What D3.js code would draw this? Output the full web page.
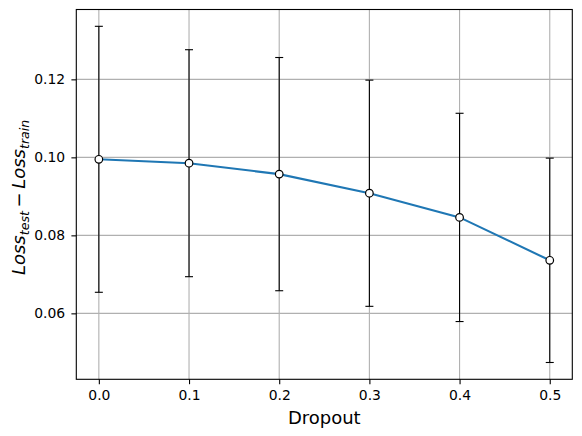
<!DOCTYPE html>
<html><head><meta charset="utf-8">
<script src="https://cdn.jsdelivr.net/npm/d3@7"></script>
<style>body{margin:0;background:#fff}svg{display:block;font-family:"DejaVu Sans",sans-serif}</style>
</head><body><svg id="c" width="582" height="436"></svg>
<script>
const dropout = [0.0, 0.1, 0.2, 0.3, 0.4, 0.5];
const meanGap = [0.0995, 0.0985, 0.0957, 0.0908, 0.0846, 0.0736];
const errGap  = [0.0341, 0.0291, 0.0299, 0.0290, 0.0267, 0.0262];
const xTicks = [0.0, 0.1, 0.2, 0.3, 0.4, 0.5];
const yTicks = [0.06, 0.08, 0.10, 0.12];

const svg = d3.select("#c");
const L = 76.3, R = 572.3, T = 9.5, B = 379.3;
const lo = d3.min(meanGap.map((m,i)=>m-errGap[i])), hi = d3.max(meanGap.map((m,i)=>m+errGap[i]));
const yp = (hi-lo)*0.05;
const x = d3.scaleLinear().domain([-0.025, 0.525]).range([L, R]);
const y = d3.scaleLinear().domain([lo-yp, hi+yp]).range([B, T]);

// grid
const g = svg.append("g");
g.selectAll(".gx").data(xTicks).join("line")
  .attr("x1", d=>x(d)).attr("x2", d=>x(d)).attr("y1", T).attr("y2", B)
  .attr("stroke", "#b0b0b0").attr("stroke-width", 1.1);
g.selectAll(".gy").data(yTicks).join("line")
  .attr("y1", d=>y(d)).attr("y2", d=>y(d)).attr("x1", L).attr("x2", R)
  .attr("stroke", "#b0b0b0").attr("stroke-width", 1.1);

// axes
const xa = svg.append("g").attr("transform", `translate(0,${B})`)
  .call(d3.axisBottom(x).tickValues(xTicks).tickFormat(d3.format(".1f")).tickSizeOuter(0).tickSize(4.9).tickPadding(6.3));
const ya = svg.append("g").attr("transform", `translate(${L},0)`)
  .call(d3.axisLeft(y).tickValues(yTicks).tickFormat(d3.format(".2f")).tickSizeOuter(0).tickSize(4.9).tickPadding(6.2));
[xa, ya].forEach(a => {
  a.select(".domain").remove();
  a.selectAll("line").attr("stroke", "#000").attr("stroke-width", 1.1);
  a.selectAll("text").attr("font-size", 13.9).attr("fill", "#000").attr("font-family", "DejaVu Sans");
});

// line
svg.append("path").datum(dropout.map((d,i)=>[d, meanGap[i]]))
  .attr("d", d3.line().x(d=>x(d[0])).y(d=>y(d[1])))
  .attr("fill", "none").attr("stroke", "#1f77b4").attr("stroke-width", 2.1);

// error bars
const eb = svg.append("g").attr("stroke", "#000").attr("stroke-width", 1.1);
dropout.forEach((d,i) => {
  const cx = x(d), y1 = y(meanGap[i]+errGap[i]), y2 = y(meanGap[i]-errGap[i]);
  eb.append("line").attr("x1", cx).attr("x2", cx).attr("y1", y1).attr("y2", y2);
  eb.append("line").attr("x1", cx-4).attr("x2", cx+4).attr("y1", y1).attr("y2", y1);
  eb.append("line").attr("x1", cx-4).attr("x2", cx+4).attr("y1", y2).attr("y2", y2);
});

// markers
svg.append("g").selectAll("circle").data(dropout).join("circle")
  .attr("cx", d=>x(d)).attr("cy", (d,i)=>y(meanGap[i])).attr("r", 3.8)
  .attr("fill", "#fff").attr("stroke", "#000").attr("stroke-width", 1.2);

// frame
svg.append("rect").attr("x", L).attr("y", T).attr("width", R-L).attr("height", B-T)
  .attr("fill", "none").attr("stroke", "#000").attr("stroke-width", 1.1);

// labels
svg.append("text").attr("x", (L+R)/2).attr("y", 423.5).attr("text-anchor", "middle")
  .attr("font-size", 18).attr("fill", "#000").text("Dropout");

const yl = svg.append("text").attr("transform", `translate(25,${(T+B)/2 + 3}) rotate(-90)`)
  .attr("text-anchor", "middle").attr("font-size", 18).attr("fill", "#000");
yl.append("tspan").attr("font-style", "italic").text("Loss");
yl.append("tspan").attr("font-style", "italic").attr("font-size", 12.6).attr("dy", 3.5).text("test");
yl.append("tspan").attr("dy", -3.5).text("\u2009−\u2009");
yl.append("tspan").attr("font-style", "italic").text("Loss");
yl.append("tspan").attr("font-style", "italic").attr("font-size", 12.6).attr("dy", 3.5).text("train");
</script></body></html>
